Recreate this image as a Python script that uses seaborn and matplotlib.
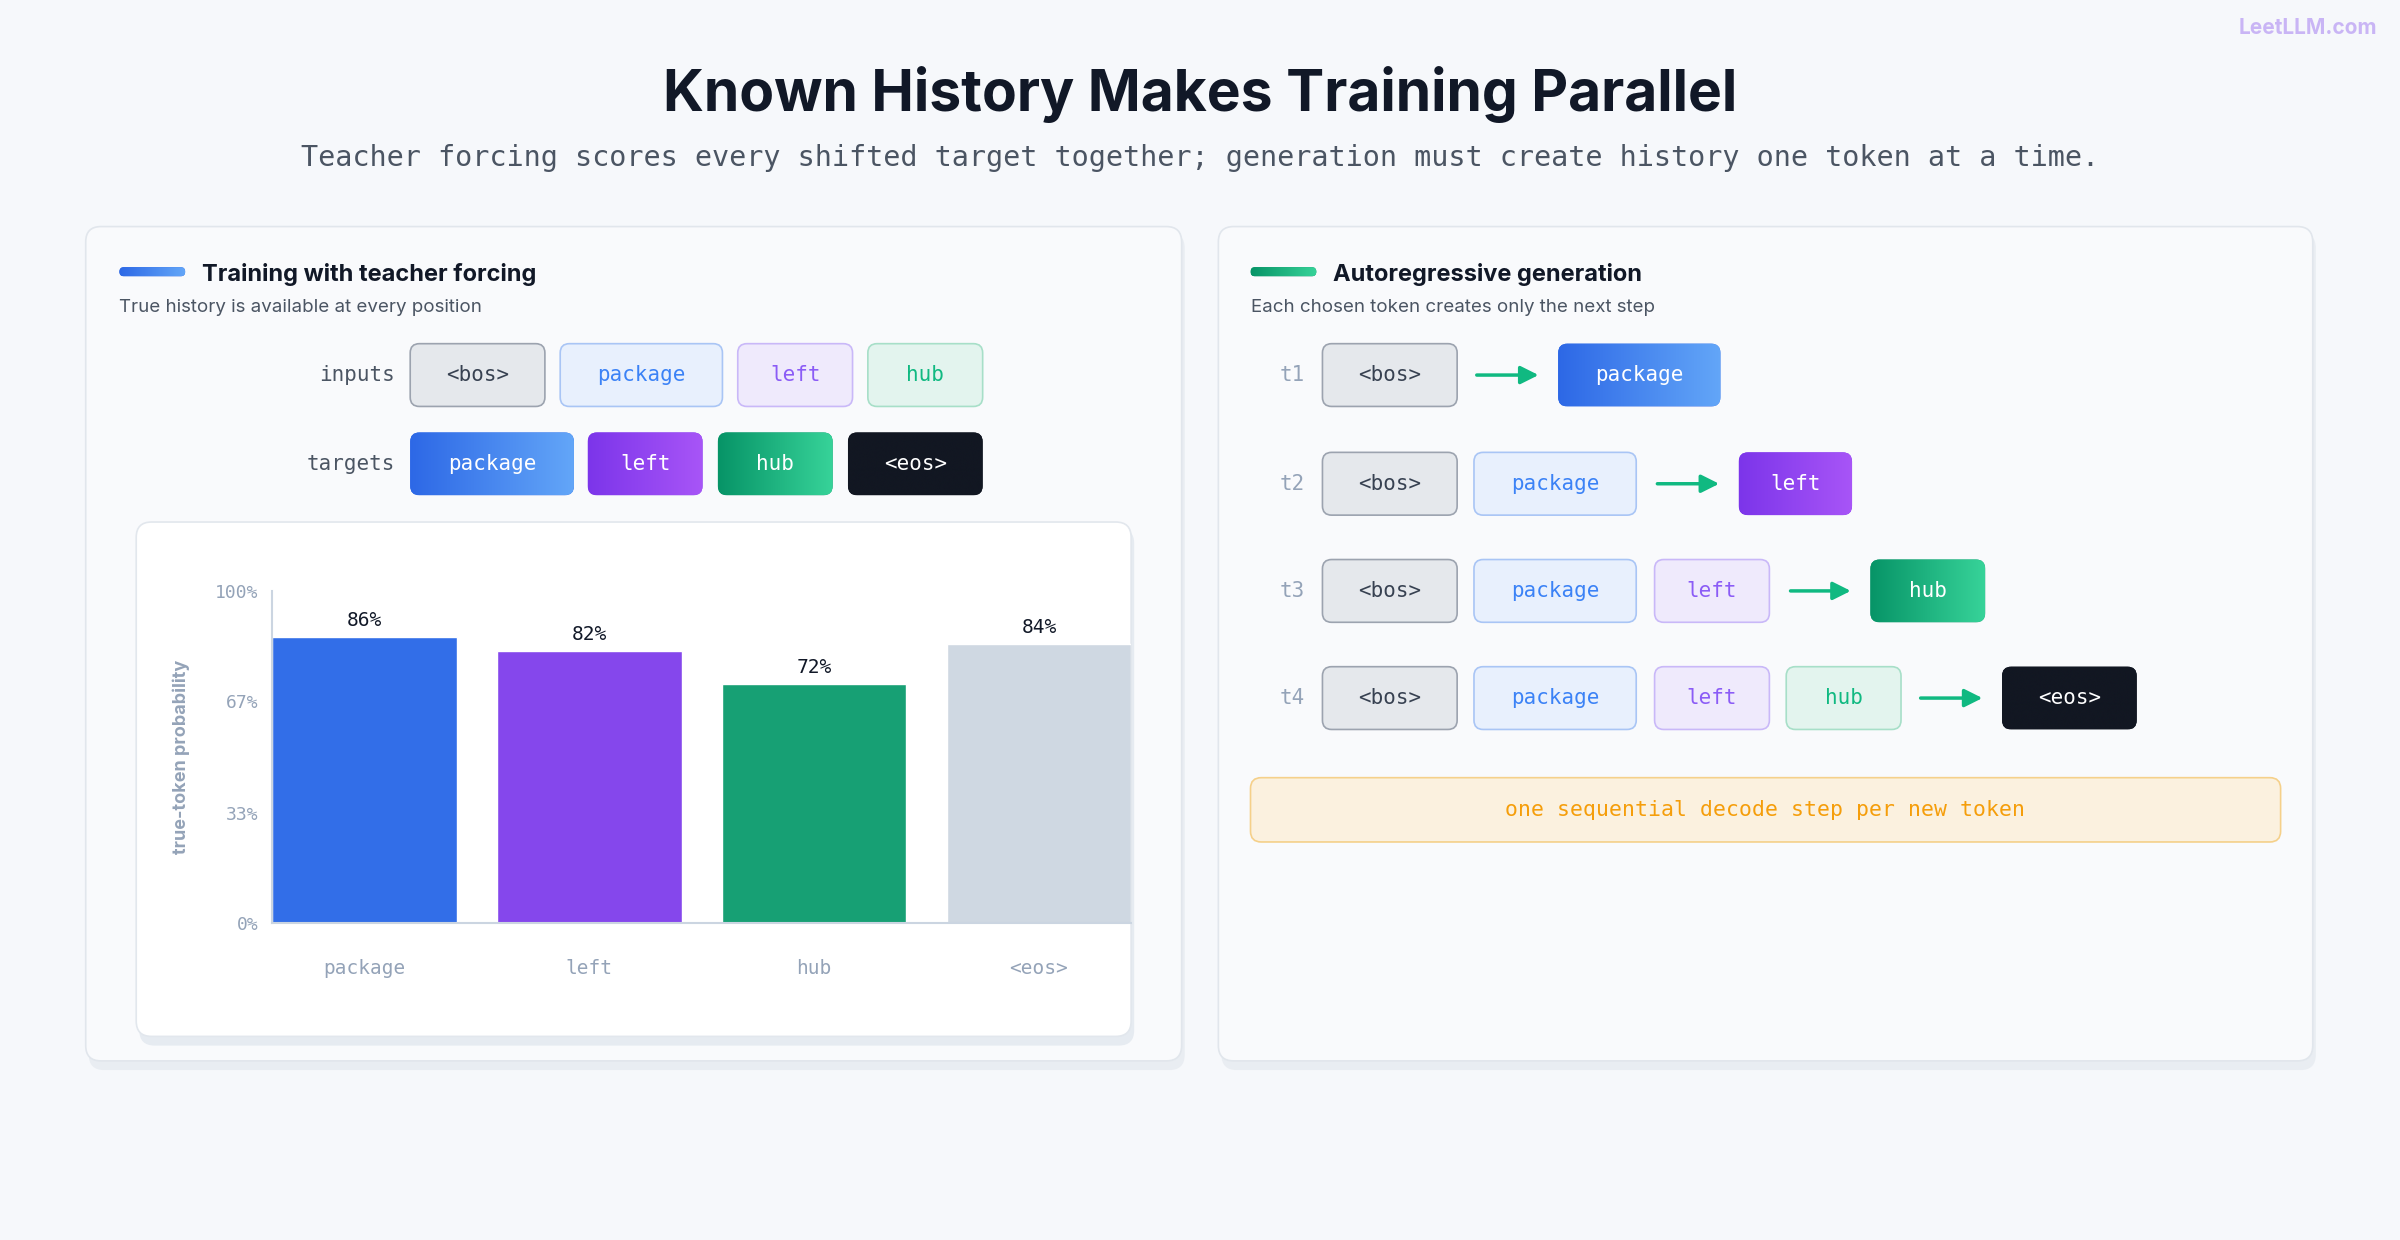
import numpy as np
import matplotlib
matplotlib.use("Agg")
import matplotlib.pyplot as plt
import seaborn as sns
from matplotlib.patches import FancyBboxPatch
from matplotlib.colors import LinearSegmentedColormap

# data
tokens = ["package", "left", "hub", "<eos>"]
probs = [86, 82, 72, 84]
bar_colors = ["#326ee8", "#8547ec", "#17a074", "#cfd8e2"]
y_ticks = [0, 33, 67, 100]
inputs = ["<bos>", "package", "left", "hub"]
targets = ["package", "left", "hub", "<eos>"]
steps = ["t1", "t2", "t3", "t4"]

sns.set_theme(style="white")
plt.rcParams["font.family"] = ["Inter", "DejaVu Sans"]
MONO = "DejaVu Sans Mono"

fig = plt.figure(figsize=(24, 12.4), dpi=100)
fig.patch.set_facecolor("#f6f8fb")
ov = fig.add_axes([0, 0, 1, 1])
ov.set_xlim(0, 1568)
ov.set_ylim(810, 0)
ov.axis("off")

# token styles: fill, edge, text, gradient
light = {
    "<bos>": ("#e5e8ec", "#9ca3af", "#374151"),
    "package": ("#e8f0fd", "#a9c5f5", "#3b82f6"),
    "left": ("#efeafc", "#c9b8f8", "#8b5cf6"),
    "hub": ("#e3f4ee", "#a7dfc8", "#10b981"),
}
dark = {
    "package": ("#2d68e6", "#63a6f8"),
    "left": ("#7c35ea", "#a855f7"),
    "hub": ("#079467", "#37d399"),
    "<eos>": ("#121722", "#121722"),
}


def rbox(x0, y0, x1, y1, fc, ec="none", r=6, lw=1.2, z=2):
    p = FancyBboxPatch((x0, y0), x1 - x0, y1 - y0,
                       boxstyle=f"round,pad=0,rounding_size={r}",
                       fc=fc, ec=ec, lw=lw, zorder=z)
    ov.add_patch(p)
    return p


def grad(p, x0, y0, x1, y1, c0, c1, z=3):
    cm = LinearSegmentedColormap.from_list("g", [c0, c1])
    g = np.linspace(0, 1, 256).reshape(1, -1)
    im = ov.imshow(g, cmap=cm, extent=(x0, x1, y1, y0), aspect="auto",
                   zorder=z, interpolation="bicubic")
    im.set_clip_path(p)


def token(x0, x1, yc, tok, filled, h=41):
    y0, y1 = yc - h / 2, yc + h / 2
    if filled:
        c0, c1 = dark[tok]
        p = rbox(x0, y0, x1, y1, c0, z=2)
        grad(p, x0, y0, x1, y1, c0, c1)
        tc = "white"
    else:
        fc, ec, tc = light[tok]
        rbox(x0, y0, x1, y1, fc, ec, z=2)
    ov.text((x0 + x1) / 2, yc, tok, ha="center", va="center", color=tc,
            fontsize=15, family=MONO, zorder=5)


def arrow(x0, x1, yc):
    ov.annotate("", xy=(x1, yc), xytext=(x0, yc),
                arrowprops=dict(arrowstyle="-|>,head_length=0.9,head_width=0.45",
                                color="#10b981", lw=2.5), zorder=5)


# title
ov.text(784, 62, "Known History Makes Training Parallel", ha="center", va="center",
        fontsize=41, weight="bold", color="#111827")
ov.text(784, 103, "Teacher forcing scores every shifted target together; generation must create history one token at a time.",
        ha="center", va="center", fontsize=20.5, family=MONO, color="#4b5563")
ov.text(1553, 18, "LeetLLM.com", ha="right", va="center", fontsize=15,
        weight="bold", color="#c9b5f5")

# panels
for x0, x1 in [(56, 772), (796, 1511)]:
    rbox(x0 + 2, 152, x1 + 2, 699, "#e9edf2", r=10, z=0.5)
    rbox(x0, 148, x1, 693, "#f9fafc", "#e1e6ec", r=10, z=1)

# headers
for x0, c0, c1, ttl, sub in [(78, "#2d68e6", "#63a6f8", "Training with teacher forcing",
                              "True history is available at every position"),
                             (817, "#079467", "#37d399", "Autoregressive generation",
                              "Each chosen token creates only the next step")]:
    p = rbox(x0, 174.5, x0 + 43, 180.5, c0, r=3, z=2)
    grad(p, x0, 174.5, x0 + 43, 180.5, c0, c1)
    ov.text(x0 + 54, 179, ttl, va="center", fontsize=17, weight="bold", color="#111827")
    ov.text(x0, 201, sub, va="center", fontsize=13.5, color="#4b5563")

# inputs / targets
ov.text(258, 245, "inputs", ha="right", va="center", fontsize=15, family=MONO, color="#4b5563")
ov.text(258, 303, "targets", ha="right", va="center", fontsize=15, family=MONO, color="#4b5563")
for (x0, x1), tok in zip([(268, 356), (366, 472), (482, 557), (567, 642)], inputs):
    token(x0, x1, 245, tok, False)
for (x0, x1), tok in zip([(268, 375), (384, 459), (469, 544), (554, 642)], targets):
    token(x0, x1, 303, tok, True)

# chart card
rbox(91, 345, 741, 683, "#e6ebf1", r=10, z=2)
rbox(89, 341, 739, 677, "white", "#e2e7ed", r=10, z=2.5)

ax = fig.add_axes([178 / 1568, 1 - 603 / 810, (739 - 178) / 1568, (603 - 386) / 810])
ax.set_zorder(5)
ax.patch.set_alpha(0)
sns.barplot(x=tokens, y=probs, hue=tokens, palette=bar_colors, width=0.82,
            saturation=1, legend=False, ax=ax)
ax.set_xlim(-0.41, 3.41)
ax.set_ylim(0, 100)
ax.set_yticks(y_ticks)
ax.set_yticklabels([f"{v}%" for v in y_ticks], family=MONO, fontsize=13, color="#94a3b8")
ax.set_xticks(range(len(tokens)))
ax.set_xticklabels(tokens, family=MONO, fontsize=14, color="#94a3b8")
ax.tick_params(axis="x", length=0, pad=26)
ax.tick_params(axis="y", length=0, pad=10)
for c in ax.containers:
    ax.bar_label(c, fmt="%d%%", padding=5, family=MONO, fontsize=14, color="#111827")
for s in ["top", "right"]:
    ax.spines[s].set_visible(False)
for s in ["left", "bottom"]:
    ax.spines[s].set_color("#cbd5e1")
    ax.spines[s].set_linewidth(1.5)
ax.set_xlabel("")
ax.set_ylabel("true-token probability", fontsize=13, weight="bold", color="#94a3b8", labelpad=18)

# right rows
pos_b = (864, 952)
pos_p = (963, 1069)
pos_l = (1081, 1156)
pos_h = (1167, 1242)
rows = [
    (245, [], (963, 1007), (1018, 1124), "package"),
    (316, [(pos_p, "package")], (1081, 1125), (1136, 1210), "left"),
    (386, [(pos_p, "package"), (pos_l, "left")], (1168, 1211), (1222, 1297), "hub"),
    (456, [(pos_p, "package"), (pos_l, "left"), (pos_h, "hub")], (1253, 1297), (1308, 1396), "<eos>"),
]
for st, (yc, prev, arr, out, tok) in zip(steps, rows):
    ov.text(844, yc, st, ha="center", va="center", fontsize=15, family=MONO, color="#94a3b8")
    token(*pos_b, yc, "<bos>", False)
    for (x0, x1), t in prev:
        token(x0, x1, yc, t, False)
    arrow(arr[0], arr[1], yc)
    token(out[0], out[1], yc, tok, True)

rbox(817, 508, 1490, 550, "#fbf1df", "#f5d08a", r=7, z=2)
ov.text(1153, 529, "one sequential decode step per new token", ha="center", va="center",
        fontsize=15.5, family=MONO, color="#f59e0b", zorder=5)

fig.savefig("out.png", dpi=100, facecolor=fig.get_facecolor())
